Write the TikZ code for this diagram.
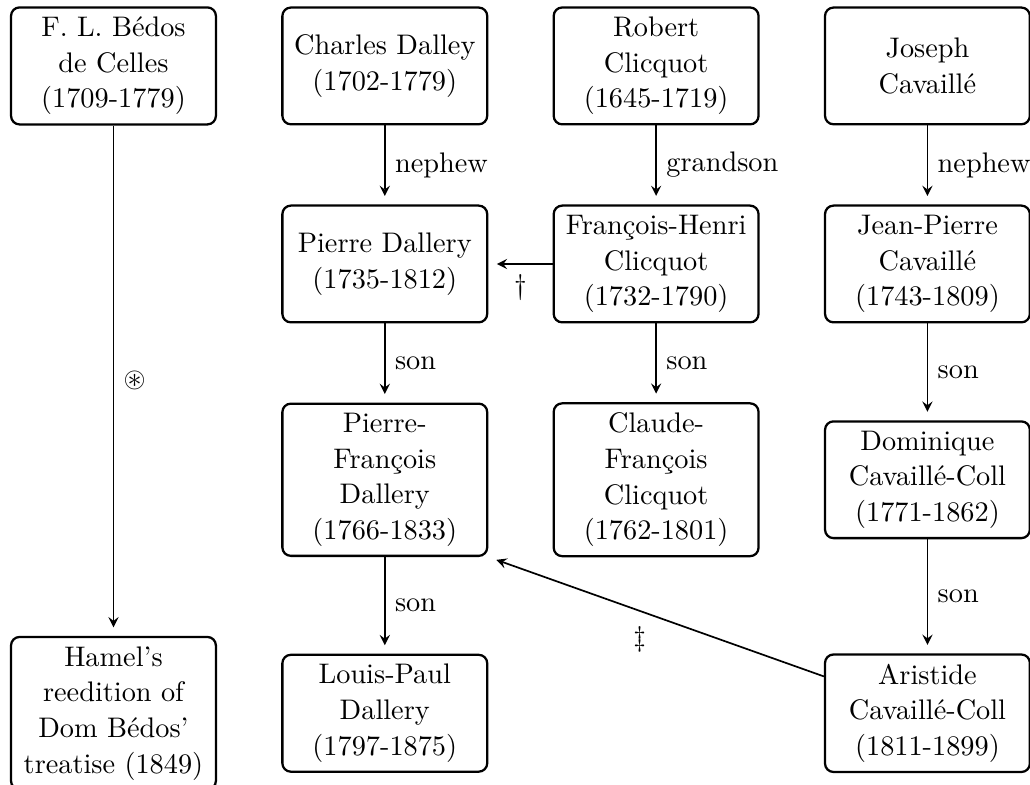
\documentclass[tikz,border=0pt]{standalone}
\usepackage{amsmath}
\usepackage{amssymb}
\usepackage{tikz}
\usetikzlibrary{arrows}
\tikzstyle{person} = [rectangle, rounded corners=3pt, text width=2.31cm, minimum height=1.45cm, align=center, draw=black, thick, font=\fontsize{10}{12.6}\selectfont]
\tikzstyle{arrow} = [semithick,->,>=stealth, shorten >=3pt]

\begin{document}
\begin{tikzpicture}[node distance=3.37cm]
	\useasboundingbox (-40.1pt,23.3pt) rectangle (323.9pt,-254.1pt);
	% first generation
	\node[person](bedos){F. L. Bédos\\de Celles\\(1709-1779)};
	\node[person, right of=bedos](cdalley){Charles Dalley\\(1702-1779)};
	\node[person, right of=cdalley](rclicquot){Robert\\Clicquot\\(1645-1719)};
	\node[person, right of=rclicquot](jcavaille){Joseph\\Cavaillé};
	% second
	\node[person, node distance=2.46cm, below of=cdalley](pdallery){Pierre Dallery\\(1735-1812)};
	\node[person, node distance=2.46cm, below of=rclicquot](fhclicquot){François-Henri\\Clicquot\\(1732-1790)};
	\node[person, node distance=2.46cm, below of=jcavaille](jpcavaille){Jean-Pierre\\Cavaillé\\(1743-1809)};
	% third
	\node[person, node distance=2.68cm, below of=pdallery](pfdallery){Pierre-\\François\\Dallery\\(1766-1833)};
	\node[person, node distance=2.68cm, below of=fhclicquot](cfclicquot){Claude-\\François\\Clicquot\\(1762-1801)};
	\node[person, node distance=2.68cm, below of=jpcavaille](dcavaille){Dominique\\Cavaillé-Coll\\(1771-1862)};
	% fourth
	\node[person, node distance=2.9cm, below of=pfdallery](lpdallery){Louis-Paul\\Dallery\\(1797-1875)};
	\node[person, node distance=2.9cm, below of=dcavaille](acavaille){Aristide\\Cavaillé-Coll\\(1811-1899)};
	\node[person, node distance=8.04cm, below of=bedos](hamel){Hamel's\\reedition of\\Dom Bédos'\\treatise (1849)};
	
	\draw[arrow] (bedos) -- node[right]{$\circledast$} (hamel);
	\draw[arrow] (cdalley) -- node[right]{nephew} (pdallery);
	\draw[arrow] (rclicquot) -- node[right]{grandson} (fhclicquot);
	\draw[arrow] (jcavaille) -- node[right]{nephew} (jpcavaille);
	\draw[arrow] (fhclicquot) -- node[below]{\dag} (pdallery);
	\draw[arrow] (pdallery) -- node[right]{son} (pfdallery);
	\draw[arrow] (fhclicquot) -- node[right]{son} (cfclicquot);
	\draw[arrow] (jpcavaille) -- node[right]{son} (dcavaille);
	\draw[arrow] (pfdallery) -- node[right]{son} (lpdallery);
	\draw[arrow] (dcavaille) -- node[right]{son} (acavaille);
	\draw[arrow] (acavaille) -- node[below left]{\ddag} (pfdallery.south east);
\end{tikzpicture}
\end{document}
